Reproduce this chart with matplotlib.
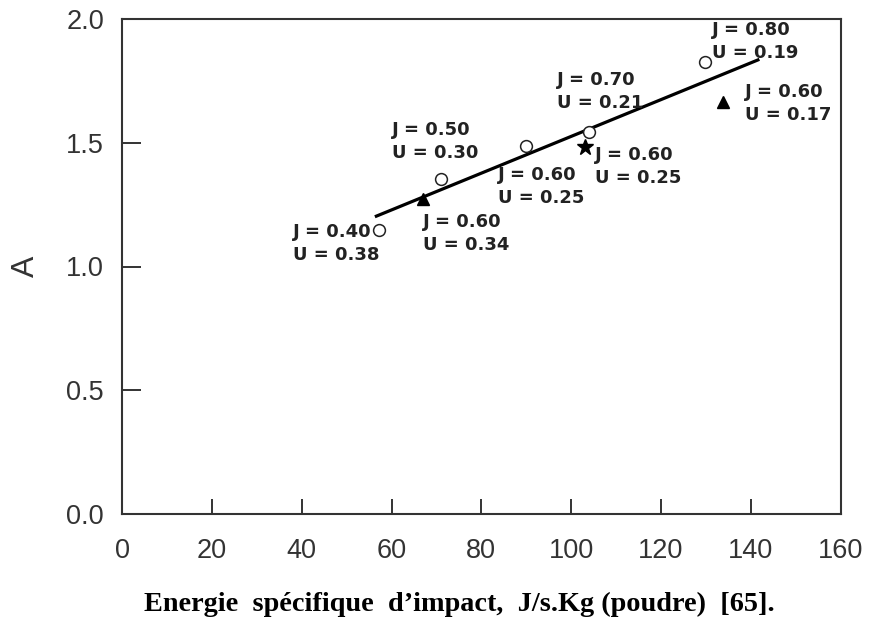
import matplotlib
matplotlib.use("Agg")
import matplotlib.pyplot as plt

# 数据：点位和标注
circle_x = [57.2, 71.0, 89.9, 104.0, 129.8]
circle_y = [1.147, 1.354, 1.488, 1.545, 1.828]
triangle_x = [67.1, 133.9]
triangle_y = [1.273, 1.666]
star_x = [103.1]
star_y = [1.484]
fit_x = [56.3, 141.9]
fit_y = [1.201, 1.837]

# 标注文字及其左上角位置 (x, y 数据坐标)
label_texts = [
    "J = 0.40\nU = 0.38",
    "J = 0.50\nU = 0.30",
    "J = 0.60\nU = 0.34",
    "J = 0.60\nU = 0.25",
    "J = 0.70\nU = 0.21",
    "J = 0.60\nU = 0.25",
    "J = 0.80\nU = 0.19",
    "J = 0.60\nU = 0.17",
]
label_x = [38.1, 60.0, 67.1, 83.8, 96.8, 105.3, 131.3, 138.7]
label_y = [1.176, 1.588, 1.216, 1.406, 1.790, 1.487, 1.992, 1.741]

xticks = [0, 20, 40, 60, 80, 100, 120, 140, 160]
yticks = [0.0, 0.5, 1.0, 1.5, 2.0]

fig = plt.figure(figsize=(8.69, 6.25), dpi=100)
ax = fig.add_axes([0.1404, 0.1776, 0.827, 0.792])

ax.plot(fit_x, fit_y, color="black", lw=2.3, solid_capstyle="butt", zorder=2)
ax.plot(circle_x, circle_y, "o", ms=8.5, mfc="white", mec="#222222", mew=1.1, zorder=3)
ax.plot(triangle_x, triangle_y, "^", ms=9, color="black", zorder=3)
ax.plot(star_x, star_y, "*", ms=12, color="black", zorder=3)

for txt, tx, ty in zip(label_texts, label_x, label_y):
    ax.text(tx, ty, txt, fontsize=13, fontweight="bold", color="#222222",
            family="DejaVu Sans", ha="left", va="top", linespacing=1.35)

ax.set_xlim(0, 160)
ax.set_ylim(0, 2.0)
ax.set_xticks(xticks)
ax.set_yticks(yticks)
ax.set_yticklabels([f"{v:.1f}" for v in yticks])
ax.tick_params(axis="x", direction="in", length=11, width=1.4, pad=17,
               labelsize=19.5, colors="#333333")
ax.tick_params(axis="y", direction="in", length=14, width=1.4, pad=13,
               labelsize=19.5, colors="#333333")
for lab in ax.get_xticklabels() + ax.get_yticklabels():
    lab.set_family("Liberation Sans")
for sp in ax.spines.values():
    sp.set_color("#333333")
    sp.set_linewidth(1.5)

ax.set_ylabel("A", fontsize=23, family="Liberation Sans", color="#333333", labelpad=18)

fig.text(0.529, 0.022, "Energie  spécifique  d’impact,  J/s.Kg (poudre)  [65].",
         fontsize=20.3, fontweight="bold", family="Liberation Serif",
         ha="center", va="baseline", color="black")

fig.savefig("out.png", dpi=100)
plt.close(fig)
